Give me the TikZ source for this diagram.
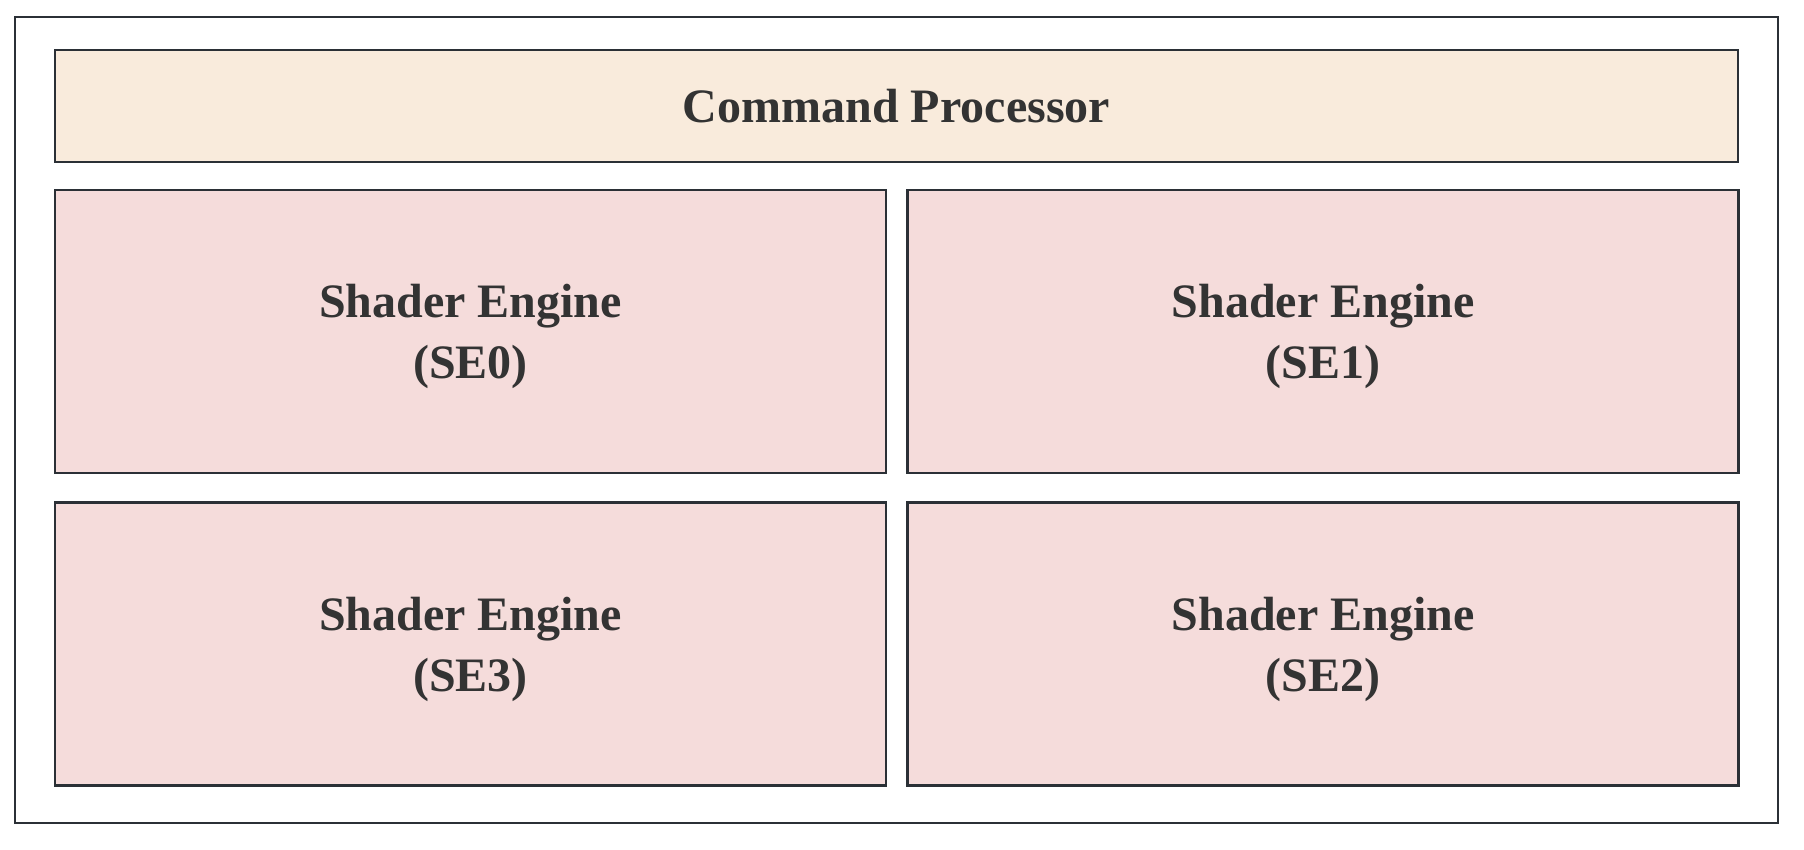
\documentclass[tikz,border=0pt]{standalone}
\usepackage{fontspec}
\setmainfont{Liberation Serif}
\usetikzlibrary{positioning}
\definecolor{edgegray}{HTML}{2B3036}
\definecolor{textgray}{HTML}{333333}
\definecolor{cpfill}{HTML}{F9EBDC}
\definecolor{sefill}{HTML}{F5DCDB}
\newcommand{\selabel}[1]{\rule{0pt}{44pt}Shader Engine\\(SE#1)}
\tikzset{
  unit/.style={draw=edgegray, line width=2.5pt, inner sep=0pt, align=center,
    text=textgray, font=\fontsize{48}{61}\selectfont\bfseries},
  cpbox/.style={unit, fill=cpfill, minimum width=1683pt, minimum height=112pt},
  sebox/.style={unit, fill=sefill, minimum width=831pt, minimum height=283pt}
}
\begin{document}
\begin{tikzpicture}[x=1pt,y=-1pt]
  \useasboundingbox (0,0) rectangle (1804,850);
  \node[draw=edgegray, line width=2.5pt, inner sep=0pt, minimum width=1763pt,
    minimum height=806pt] (gpu) at (896.5,420) {};
  \node[cpbox] (cp) at (896.5,106) {Command Processor};
  \node[sebox] (se0) at (470.5,331.5) {\selabel{0}};
  \node[sebox] (se1) at (1323,331.5) {\selabel{1}};
  \node[sebox] (se3) at (470.5,644) {\selabel{3}};
  \node[sebox] (se2) at (1323,644) {\selabel{2}};
\end{tikzpicture}
\end{document}
